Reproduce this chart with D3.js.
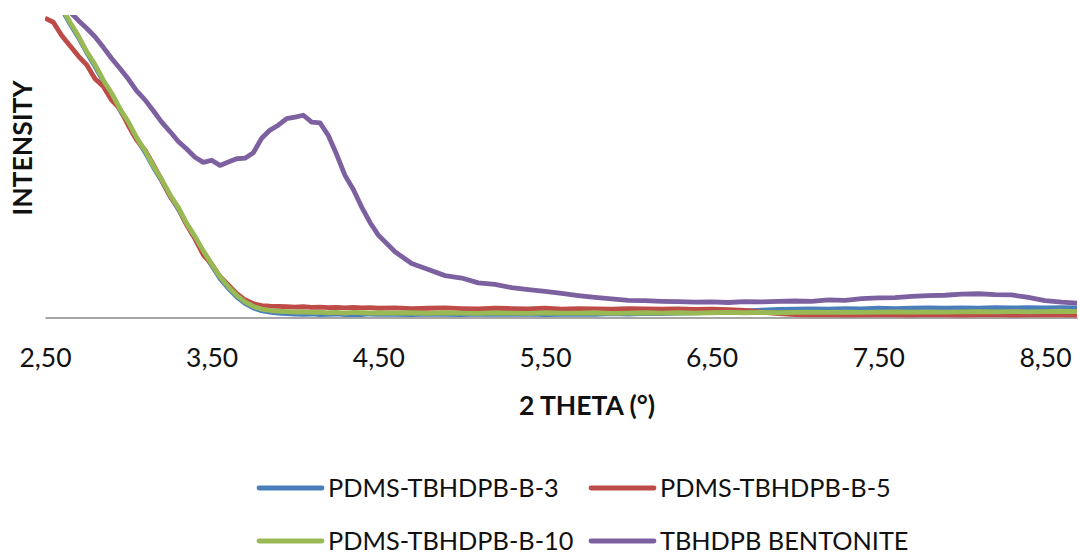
<!DOCTYPE html>
<html><head><meta charset="utf-8">
<script src="https://cdn.jsdelivr.net/npm/d3@7"></script>
<style>html,body{margin:0;padding:0;background:#fff;} svg{display:block;}</style>
</head><body><svg id="chart" width="1079" height="555"></svg>
<script>
const theta = [2.50,2.55,2.60,2.65,2.70,2.75,2.80,2.85,2.90,2.95,3.00,3.05,3.10,3.15,3.20,3.25,3.30,3.35,3.40,3.45,3.50,3.55,3.60,3.65,3.70,3.75,3.80,3.85,3.90,3.95,4.00,4.05,4.10,4.15,4.20,4.25,4.30,4.35,4.40,4.45,4.50,
4.60,4.70,4.80,4.90,5.00,5.10,5.20,5.30,5.40,5.50,5.60,5.70,5.80,5.90,6.00,6.10,6.20,6.30,6.40,6.50,6.60,6.70,6.80,6.90,7.00,7.10,7.20,7.30,7.40,7.50,7.60,7.70,7.80,7.90,8.00,8.10,8.20,8.30,8.40,8.50,8.60,8.70];

const seriesNames = ["PDMS-TBHDPB-B-3","PDMS-TBHDPB-B-5","PDMS-TBHDPB-B-10","TBHDPB BENTONITE"];
const seriesColors = ["#4A7EBB","#BE4B48","#98B954","#7D60A0"];

const valuesB3 = [111.5,106.8,102.0,97.1,92.6,87.6,83.0,78.0,73.6,68.5,64.0,59.0,54.6,49.6,45.1,40.1,35.7,30.6,26.2,21.4,17.1,12.8,9.5,6.7,4.5,3.0,2.1,1.6,1.3,1.1,1.0,
0.9,1.0,0.8,0.9,1.0,0.8,0.9,0.8,1.0,0.9,
0.9,0.8,1.0,0.9,0.8,1.0,0.9,0.9,1.0,0.8,0.9,1.0,0.9,1.1,1.0,1.2,1.1,1.3,1.4,1.6,
1.8,2.0,2.3,2.5,2.6,2.7,2.6,2.8,2.7,2.9,2.8,2.9,3.0,2.9,3.0,2.9,3.1,3.0,3.1,3.0,3.1,3.0];

const valuesB5 = [99.0,97.6,93.2,89.8,86.4,83.5,78.9,76.3,71.8,68.9,63.4,58.6,55.3,50.4,45.3,40.0,36.1,30.5,25.9,20.6,17.5,13.4,10.6,7.8,5.7,4.4,3.8,3.6,3.5,3.4,3.3,3.4,3.2,3.3,3.1,3.2,3.0,3.2,3.0,3.1,2.9,
3.0,2.8,2.9,3.0,2.8,2.7,2.9,2.8,2.7,2.9,2.6,2.8,2.7,2.6,2.8,2.7,2.6,2.7,2.5,2.6,2.4,2.2,1.6,1.1,0.8,0.7,0.8,0.6,0.7,0.8,0.7,0.6,0.8,0.7,0.6,0.7,0.8,0.6,0.7,0.8,0.7,0.6];

const valuesB10 = [112.0,107.2,102.5,97.6,93.1,87.9,83.6,78.4,74.1,68.9,64.6,59.4,55.1,50.0,45.6,40.5,36.2,31.0,26.7,21.9,17.6,13.3,10.0,7.2,5.0,3.5,2.6,2.2,1.9,1.8,1.6,1.7,1.5,1.6,1.4,1.5,1.3,1.5,1.4,1.3,1.4,
1.3,1.4,1.2,1.4,1.3,1.2,1.4,1.3,1.2,1.4,1.3,1.3,1.4,1.2,1.3,1.4,1.3,1.4,1.3,1.4,1.5,1.4,1.5,1.4,1.5,1.6,1.5,1.6,1.5,1.6,1.7,1.6,1.7,1.6,1.7,1.8,1.7,1.8,1.7,1.8,1.9,1.8];

const valuesBentonite = [116,110,104,101,98.2,95.6,92.8,89.3,85.6,82.3,78.8,74.9,71.9,68.3,64.5,61.4,58.1,55.6,52.9,51.2,51.9,50.2,51.3,52.4,52.6,54.4,59.2,61.9,63.5,65.7,66.2,66.8,64.5,64.3,60.1,53.8,46.9,42.2,36.4,31.3,27.1,
21.6,17.7,15.7,13.7,12.9,11.3,10.8,9.7,9.1,8.5,7.8,7.1,6.5,6.0,5.5,5.4,5.2,5.1,4.9,5.0,4.8,5.1,5.0,5.2,5.3,5.2,5.7,5.5,6.1,6.3,6.4,6.8,7.1,7.2,7.6,7.7,7.4,7.3,6.5,5.4,4.9,4.6];

const tickValues = [2.5,3.5,4.5,5.5,6.5,7.5,8.5];
const tickLabels = ["2,50","3,50","4,50","5,50","6,50","7,50","8,50"];
const xTitle = "2 THETA (°)";
const yTitle = "INTENSITY";

const allValues = [valuesB3, valuesB5, valuesB10, valuesBentonite];

const svg = d3.select("#chart");
const FONT = "Lato, 'Open Sans', sans-serif";

const x = d3.scaleLinear().domain([2.5, 8.692]).range([45, 1077]);
const y = d3.scaleLinear().domain([0, 100]).range([317, 15]);

svg.append("defs").append("clipPath").attr("id","plotclip")
  .append("rect").attr("x",45).attr("y",15).attr("width",1032).attr("height",320);

// x axis
const xAxis = d3.axisBottom(x).tickValues(tickValues)
  .tickFormat((d,i)=>tickLabels[i]).tickSize(0).tickSizeOuter(0).tickPadding(31);
const gx = svg.append("g").attr("transform","translate(0,317.5)").call(xAxis);
gx.select(".domain").attr("stroke","#898989").attr("stroke-width",1.6);
gx.selectAll("text").attr("font-family",FONT).attr("font-size",26.5).attr("fill","#111");

// lines
const line = d3.line().x(d=>x(d[0])).y(d=>y(d[1]));
const plot = svg.append("g").attr("clip-path","url(#plotclip)");
allValues.forEach((vals,i)=>{
  const n = Math.min(vals.length, theta.length);
  const pts = d3.range(n).map(k=>[theta[k], vals[k]]);
  plot.append("path").datum(pts)
    .attr("d", line)
    .attr("fill","none")
    .attr("stroke", seriesColors[i])
    .attr("stroke-width", 4.8)
    .attr("stroke-linejoin","round");
});

// axis titles
svg.append("text").attr("x",587).attr("y",415).attr("text-anchor","middle")
  .attr("font-family",FONT).attr("font-weight","bold").attr("font-size",26.5).attr("fill","#111")
  .text(xTitle);
svg.append("text").attr("transform","translate(32,148) rotate(-90)").attr("text-anchor","middle")
  .attr("font-family",FONT).attr("font-weight","bold").attr("font-size",26.5).attr("fill","#111")
  .text(yTitle);

// legend
const legendPos = [[259,488],[591,488],[259,541],[591,541]];
const lg = svg.append("g");
seriesNames.forEach((name,i)=>{
  const [lx,ly] = legendPos[i];
  lg.append("line").attr("x1",lx).attr("x2",lx+63).attr("y1",ly).attr("y2",ly)
    .attr("stroke",seriesColors[i]).attr("stroke-width",4.8).attr("stroke-linecap","round");
  lg.append("text").attr("x",lx+69).attr("y",ly+9)
    .attr("font-family",FONT).attr("font-size",25.3).attr("fill","#111").text(name);
});
</script>
</body></html>
